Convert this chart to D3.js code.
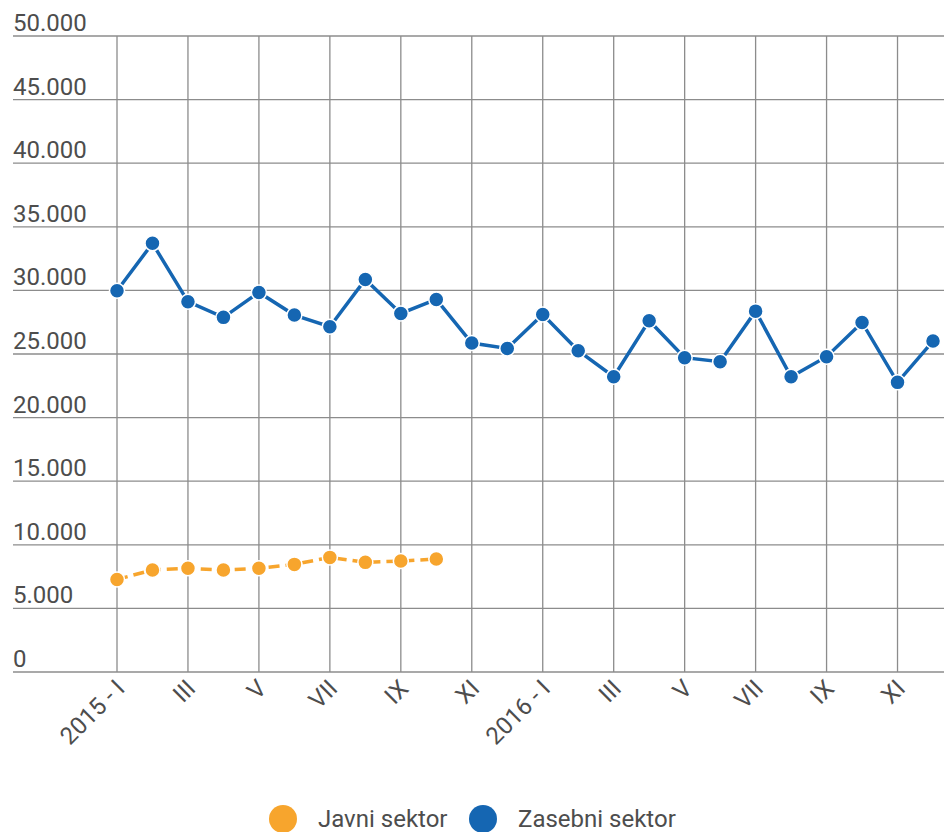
<!DOCTYPE html>
<html>
<head>
<meta charset="utf-8">
<script src="https://cdn.jsdelivr.net/npm/d3@7"></script>
<style>
  html, body { margin: 0; padding: 0; background: #fff; }
  svg { display: block; font-family: Roboto, "Open Sans", sans-serif; }
</style>
</head>
<body>
<div id="vis"></div>
<script>
const months = ["I", "II", "III", "IV", "V", "VI", "VII", "VIII", "IX", "X", "XI", "XII"];
const categories = [
  ...months.map((m, i) => i === 0 ? "2015 - I" : "2015 " + m),
  ...months.map((m, i) => i === 0 ? "2016 - I" : "2016 " + m)
];
const tickLabels = ["2015 - I", "III", "V", "VII", "IX", "XI", "2016 - I", "III", "V", "VII", "IX", "XI"];

// Javni sektor (only 2015 I - X)
const javni = [7280, 8020, 8150, 8020, 8150, 8460, 9010, 8620, 8720, 8880,
  null, null, null, null, null, null, null, null, null, null, null, null, null, null];
// Zasebni sektor
const zasebni = [29970, 33700, 29110, 27880, 29840, 28060, 27140, 30860, 28190, 29290, 25860, 25440,
  28110, 25260, 23210, 27620, 24710, 24390, 28370, 23210, 24790, 27480, 22770, 26020];

const yTicks = [0, 5000, 10000, 15000, 20000, 25000, 30000, 35000, 40000, 45000, 50000];

const W = 944, H = 832;
const plot = { left: 13, right: 944, top: 36, bottom: 672 };

const svg = d3.select("#vis").append("svg")
  .attr("width", W)
  .attr("height", H);

const x = d3.scalePoint()
  .domain(categories)
  .range([117, 933]);

const y = d3.scaleLinear()
  .domain([0, 50000])
  .range([plot.bottom, plot.top]);

const fmt = v => d3.format(",")(v).replace(/,/g, ".");

// horizontal grid + y labels
svg.append("g")
  .selectAll("line")
  .data(yTicks)
  .join("line")
  .attr("x1", plot.left)
  .attr("x2", plot.right)
  .attr("y1", d => y(d))
  .attr("y2", d => y(d))
  .attr("stroke", "#8c8c8c")
  .attr("stroke-width", 1.3);

svg.append("g")
  .selectAll("text")
  .data(yTicks)
  .join("text")
  .attr("x", plot.left)
  .attr("y", d => y(d) - 5)
  .attr("font-size", "24px")
  .attr("fill", "#4d4d4d")
  .text(d => fmt(d));

// vertical grid on every second month
const tickCats = categories.filter((d, i) => i % 2 === 0);

svg.append("g")
  .selectAll("line")
  .data(tickCats)
  .join("line")
  .attr("x1", d => x(d))
  .attr("x2", d => x(d))
  .attr("y1", plot.top)
  .attr("y2", plot.bottom)
  .attr("stroke", "#8c8c8c")
  .attr("stroke-width", 1.3);

svg.append("g")
  .selectAll("text")
  .data(tickCats)
  .join("text")
  .attr("transform", d => `translate(${x(d) + 9}, ${plot.bottom + 18}) rotate(-45)`)
  .attr("text-anchor", "end")
  .attr("font-size", "24px")
  .attr("fill", "#4d4d4d")
  .text((d, i) => tickLabels[i]);

const blue = "#1566b2";
const orange = "#f7a52d";

const line = d3.line()
  .defined(d => d.v !== null)
  .x(d => x(d.c))
  .y(d => y(d.v));

const series = [
  { name: "Javni sektor", color: orange, dash: "11,6", values: javni },
  { name: "Zasebni sektor", color: blue, dash: null, values: zasebni }
];

series.forEach(s => {
  const pts = s.values.map((v, i) => ({ c: categories[i], v }));
  svg.append("path")
    .datum(pts)
    .attr("fill", "none")
    .attr("stroke", s.color)
    .attr("stroke-width", 3.5)
    .attr("stroke-dasharray", s.dash)
    .attr("d", line);

  svg.append("g")
    .selectAll("circle")
    .data(pts.filter(d => d.v !== null))
    .join("circle")
    .attr("cx", d => x(d.c))
    .attr("cy", d => y(d.v))
    .attr("r", 7.5)
    .attr("fill", s.color)
    .attr("stroke", "#fff")
    .attr("stroke-width", 1.5);
});

// legend
const legend = svg.append("g")
  .attr("transform", "translate(283, 819)");

const legendX = [0, 200];
series.forEach((s, i) => {
  legend.append("circle")
    .attr("cx", legendX[i])
    .attr("cy", 0)
    .attr("r", 14)
    .attr("fill", s.color);
  legend.append("text")
    .attr("x", legendX[i] + 35)
    .attr("y", 8)
    .attr("font-size", "24px")
    .attr("fill", "#4d4d4d")
    .text(s.name);
});
</script>
</body>
</html>
